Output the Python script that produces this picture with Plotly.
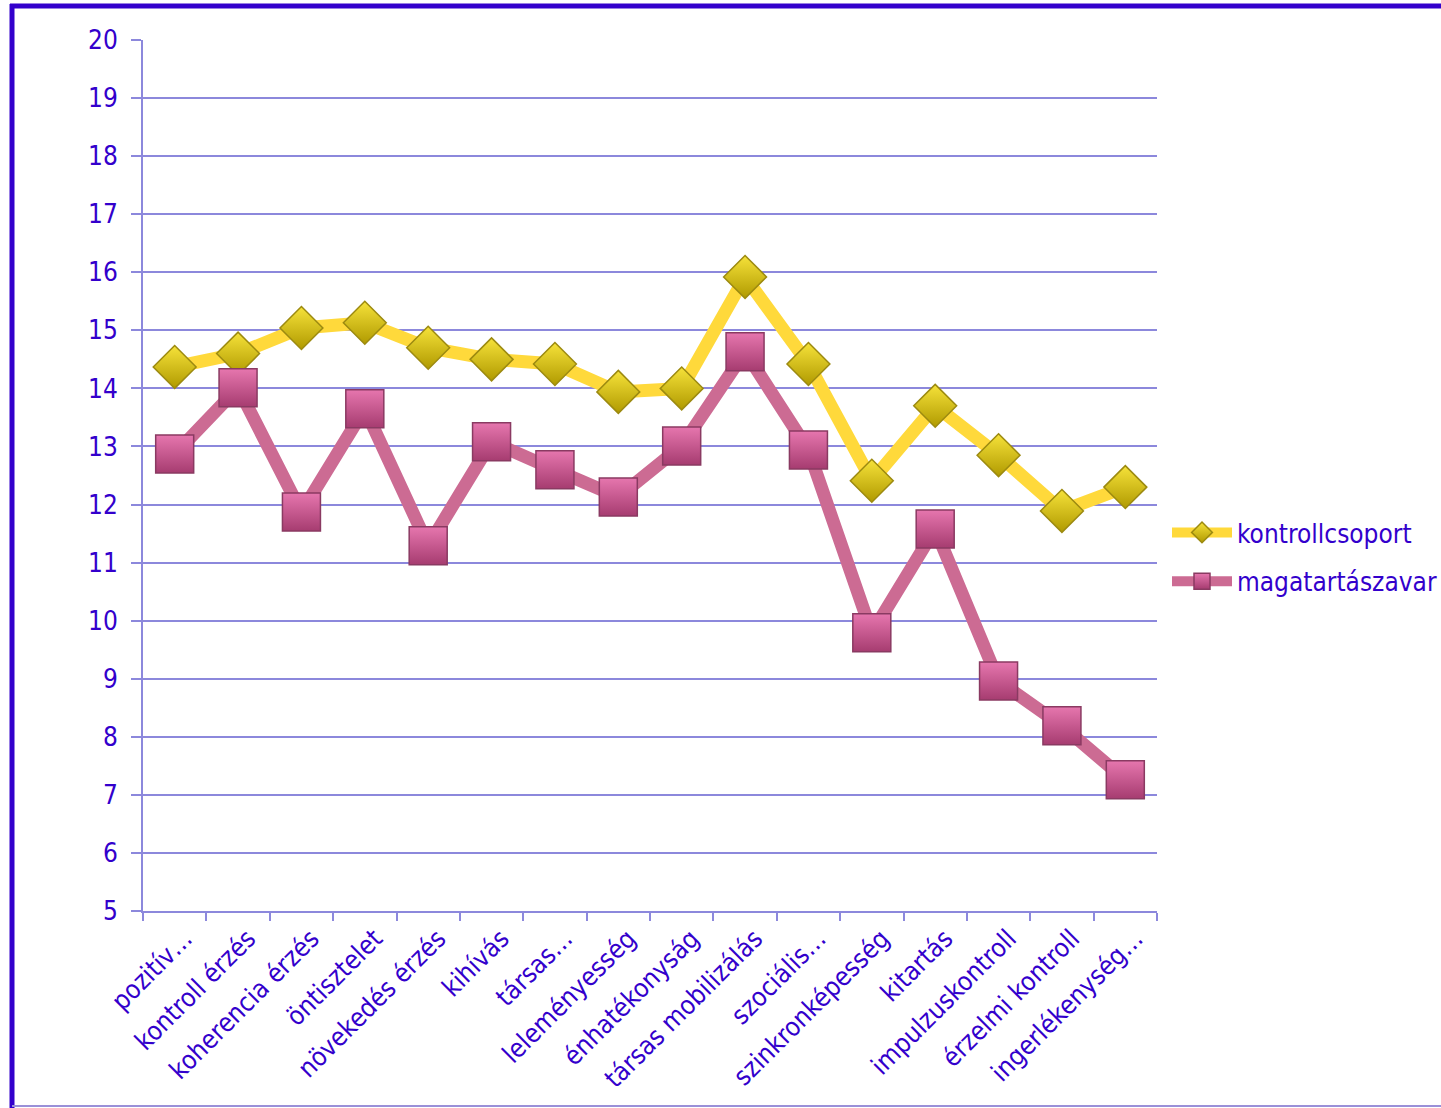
import plotly.graph_objects as go

categories = ["pozitív…", "kontroll érzés", "koherencia érzés", "öntisztelet",
              "növekedés érzés", "kihívás", "társas…", "leleményesség",
              "énhatékonyság", "társas mobilizálás", "szociális…",
              "szinkronképesség", "kitartás", "impulzuskontroll",
              "érzelmi kontroll", "ingerlékenység…"]
kontroll = [14.37, 14.6, 15.04, 15.13, 14.7, 14.5, 14.42, 13.94, 14.0, 15.92,
            14.42, 12.41, 13.7, 12.85, 11.89, 12.3]
magatartas = [12.87, 14.01, 11.87, 13.65, 11.29, 13.08, 12.6, 12.13, 13.01, 14.63,
              12.94, 9.79, 11.58, 8.96, 8.19, 7.26]
y_ticks = list(range(5, 21))

TXT = "#3300CC"
GRID = "#8C88DC"
FONT = "DejaVu Sans Condensed, DejaVu Sans, sans-serif"

fig = go.Figure()
fig.add_trace(go.Scatter(
    x=categories, y=kontroll, name="kontrollcsoport", mode="lines+markers",
    legendgroup="a",
    line=dict(color="#FFD93B", width=13),
    marker=dict(symbol="diamond", size=33, color="#F6E23A",
                gradient=dict(type="vertical", color="#B09A00"),
                line=dict(color="#9C8A10", width=1.5)),
))
fig.add_trace(go.Scatter(
    x=categories, y=magatartas, name="magatartászavar", mode="lines+markers",
    legendgroup="b",
    line=dict(color="#CC6B93", width=13),
    marker=dict(symbol="square", size=38, color="#E676AE",
                gradient=dict(type="vertical", color="#A63C70"),
                line=dict(color="#8A3A62", width=1.5)),
))

W, H = 1441, 1108
L, R, T, B = 143, 1157, 40, 911
pw, ph = R - L, B - T

def px(x):
    return (x - L) / pw

def py(y):
    return (B - y) / ph

shapes = [
    dict(type="line", xref="paper", yref="paper", x0=px(12), x1=px(12), y0=py(1110), y1=py(4),
         line=dict(color="#3300CC", width=5)),
    dict(type="line", xref="paper", yref="paper", x0=px(10), x1=px(1450), y0=py(6), y1=py(6),
         line=dict(color="#3300CC", width=5)),
    dict(type="line", xref="paper", yref="paper", x0=px(12), x1=px(1450), y0=py(1106), y1=py(1106),
         line=dict(color="#9A90D8", width=2)),
]

fig.update_layout(
    width=W, height=H,
    margin=dict(l=L, r=W - R, t=T, b=H - B, autoexpand=False),
    paper_bgcolor="white", plot_bgcolor="white",
    font=dict(family=FONT, color=TXT, size=26),
    showlegend=True,
    legend=dict(xref="container", yref="container",
                x=1167 / W, y=1 - 557 / H, xanchor="left", yanchor="middle",
                font=dict(size=26, color=TXT, family=FONT),
                itemwidth=60, tracegroupgap=12, bgcolor="rgba(0,0,0,0)"),
    shapes=shapes,
)
fig.update_xaxes(
    type="category", tickangle=-45, showgrid=False, automargin=False,
    showline=True, linecolor=GRID, linewidth=2,
    ticks="outside", tickson="boundaries", ticklen=8, tickcolor=GRID, tickwidth=2,
    tickfont=dict(size=26, color=TXT, family=FONT),
    range=[-0.5, len(categories) - 0.5],
    ticklabelshift=10,
)
fig.update_yaxes(
    range=[5, 20], tickvals=y_ticks, showgrid=True, gridcolor=GRID, gridwidth=2,
    showline=True, linecolor=GRID, linewidth=2, automargin=False,
    ticks="outside", ticklen=10, tickcolor=GRID, tickwidth=2,
    tickfont=dict(size=26, color=TXT, family=FONT), zeroline=False,
    ticklabelstandoff=8,
)

fig.write_html("out.html", config={"displayModeBar": False},
               post_script="document.body.style.margin='0';document.body.style.overflow='hidden';")
